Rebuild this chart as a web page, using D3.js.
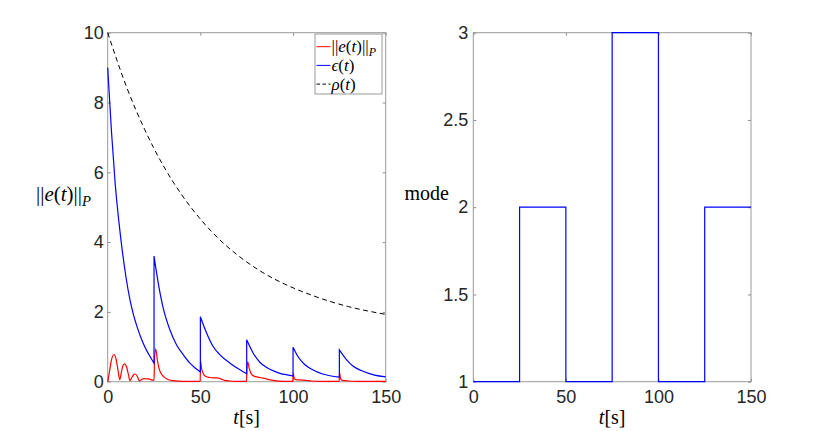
<!DOCTYPE html>
<html>
<head>
<meta charset="utf-8">
<script src="https://cdn.jsdelivr.net/npm/d3@7"></script>
<style>
    body { margin: 0; background: #fff; }
    .tick text { font-family: "Liberation Sans", Arial, sans-serif; font-size: 18px; fill: #262626; }
    .tick line { stroke: #8c8c8c; }
    .math { font-family: "Liberation Serif", "Times New Roman", serif; fill: #000; }
</style>
</head>
<body>
<div class="chart"></div>
<script>
// ||e(t)||_P  (red)
var errTime = [0, 1, 2, 3.4, 4.5, 5.5, 6.5, 7.5, 8.3, 9.2, 10.2, 11.2, 12, 13, 14, 14.8, 16, 17.1, 18.5, 19.8, 21, 22.3, 23.5, 25,
    25.2, 25.9, 26.8, 27.7, 29, 30.5, 32.2, 35, 40, 45, 49.9,
    50.1, 50.6, 51.2, 52, 53, 55, 57, 59, 61, 63, 66, 70, 74.9,
    75.1, 75.6, 76.2, 77, 77.8, 79, 81, 84, 87, 90, 95, 99.9,
    100.1, 100.6, 101.5, 104, 107, 110, 115, 124.9,
    125.1, 125.6, 126.5, 130, 135, 150];
var errValue = [0, 0.3, 0.62, 0.78, 0.65, 0.35, 0.06, 0.3, 0.47, 0.51, 0.42, 0.2, 0.03, 0.12, 0.2, 0.22, 0.15, 0.02, 0.07, 0.09, 0.08, 0.08, 0.05, 0.04,
    0.5, 0.94, 0.62, 0.38, 0.22, 0.13, 0.07, 0.03, 0.01, 0.01, 0.01,
    0.6, 0.4, 0.28, 0.19, 0.15, 0.12, 0.11, 0.11, 0.08, 0.04, 0.02, 0.01, 0.01,
    0.35, 0.57, 0.42, 0.28, 0.2, 0.16, 0.13, 0.1, 0.06, 0.03, 0.01, 0.01,
    0.24, 0.1, 0.06, 0.05, 0.04, 0.02, 0.01, 0.01,
    0.26, 0.1, 0.04, 0.02, 0.01, 0.01];

// epsilon(t) (blue), repeated time = jump
var epsTime = [0, 2, 4, 6, 8, 10, 12, 14, 16, 18, 20, 22, 25,
    25, 27.3, 30, 33.6, 37.2, 40.8, 44.4, 47, 50,
    50, 53.4, 57, 60.6, 66, 71.4, 75,
    75, 78.6, 82.2, 85.8, 89.4, 93, 98.4, 100,
    100, 102.9, 106.1, 110.6, 116, 120, 125,
    125, 128.7, 132.3, 136.8, 144, 150];
var epsValue = [9, 7.2, 5.7, 4.6, 3.7, 2.95, 2.35, 1.9, 1.55, 1.25, 1.0, 0.8, 0.53,
    3.6, 2.82, 2.1, 1.48, 1.05, 0.77, 0.53, 0.4, 0.28,
    1.86, 1.39, 1.0, 0.77, 0.53, 0.34, 0.23,
    1.2, 0.81, 0.55, 0.41, 0.31, 0.24, 0.18, 0.16,
    0.99, 0.7, 0.5, 0.34, 0.22, 0.17, 0.13,
    0.91, 0.64, 0.45, 0.32, 0.19, 0.14];

// rho(t) (black dashed)
var rhoTime = [0, 10, 20, 30, 40, 50, 60, 70, 80, 90, 100, 110, 120, 130, 140, 150];
var rhoValue = [10, 8.47, 7.22, 6.19, 5.35, 4.66, 4.09, 3.63, 3.25, 2.94, 2.69, 2.48, 2.3, 2.15, 2.03, 1.93];

// mode (right panel)
var modeTime = [0, 25, 50, 75, 100, 125, 150];
var modeValue = [1, 2, 1, 3, 1, 2, 2];

var xTicks = [0, 50, 100, 150];
var leftTicks = [0, 2, 4, 6, 8, 10];
var rightTicks = [1, 1.5, 2, 2.5, 3];

var svg = d3.select(".chart").append("svg")
    .attr("width", 830)
    .attr("height", 431);

svg.append("rect").attr("width", 830).attr("height", 431).attr("fill", "#fff");

var top0 = 32.7, bottom0 = 381.7;
var xL = d3.scaleLinear().domain([0, 150]).range([107.7, 385.7]);
var yL = d3.scaleLinear().domain([0, 10]).range([bottom0, top0]);
var xR = d3.scaleLinear().domain([0, 150]).range([473.3, 751]);
var yR = d3.scaleLinear().domain([1, 3]).range([bottom0, top0]);

function frame(x, y, yTicks, fmt, pad) {
    var g = svg.append("g");
    g.append("g").attr("transform", "translate(0," + bottom0 + ")")
        .call(d3.axisBottom(x).tickValues(xTicks).tickSizeInner(-3).tickSizeOuter(0).tickPadding(9));
    g.append("g").attr("transform", "translate(0," + top0 + ")")
        .call(d3.axisTop(x).tickValues(xTicks).tickSizeInner(-3).tickSizeOuter(0).tickFormat(""));
    g.append("g").attr("transform", "translate(" + x.range()[0] + ",0)")
        .call(d3.axisLeft(y).tickValues(yTicks).tickSizeInner(-3).tickSizeOuter(0).tickPadding(pad).tickFormat(fmt));
    g.append("g").attr("transform", "translate(" + x.range()[1] + ",0)")
        .call(d3.axisRight(y).tickValues(yTicks).tickSizeInner(-3).tickSizeOuter(0).tickFormat(""));
    g.selectAll(".domain").remove();
    g.append("rect")
        .attr("x", x.range()[0]).attr("y", top0)
        .attr("width", x.range()[1] - x.range()[0])
        .attr("height", bottom0 - top0)
        .attr("fill", "none").attr("stroke", "#9a9a9a").attr("stroke-width", 1);
    return g;
}

frame(xL, yL, leftTicks, d3.format("d"), 4);
frame(xR, yR, rightTicks, function(d) { return d3.format("")(d); }, 5);

// lines, left panel
function pts(ts, vs) { return ts.map(function(t, i) { return [t, vs[i]]; }); }

var lineL = d3.line()
    .x(function(d) { return xL(d[0]); })
    .y(function(d) { return yL(d[1]); })
    .curve(d3.curveMonotoneX);

// break at repeated times, then join the pieces with vertical steps
function jumpPath(ts, vs) {
    var segs = [], cur = [];
    ts.forEach(function(t, i) {
        if (i > 0 && t <= ts[i - 1]) { segs.push(cur); cur = []; }
        cur.push([t, vs[i]]);
    });
    segs.push(cur);
    return segs.map(function(s, i) {
        var p = lineL(s);
        return i === 0 ? p : "L" + p.slice(1);
    }).join("");
}

svg.append("path")
    .attr("d", lineL(pts(errTime, errValue)))
    .attr("fill", "none").attr("stroke", "#ff0000").attr("stroke-width", 1.2);

svg.append("path")
    .attr("d", jumpPath(epsTime, epsValue))
    .attr("fill", "none").attr("stroke", "#0000ff").attr("stroke-width", 1.2);

svg.append("path")
    .attr("d", lineL(pts(rhoTime, rhoValue)))
    .attr("fill", "none").attr("stroke", "#000").attr("stroke-width", 1)
    .attr("stroke-dasharray", "5,3.5");

// right panel step line
svg.append("path")
    .attr("d", d3.line()
        .x(function(d) { return xR(d[0]); })
        .y(function(d) { return yR(d[1]); })
        .curve(d3.curveStepAfter)(pts(modeTime, modeValue)))
    .attr("fill", "none").attr("stroke", "#0000ff").attr("stroke-width", 1.2);

// labels
function normLabel(sel, size) {
    sel.append("tspan").text("||");
    sel.append("tspan").attr("font-style", "italic").text("e");
    sel.append("tspan").text("(");
    sel.append("tspan").attr("font-style", "italic").text("t");
    sel.append("tspan").text(")||");
    sel.append("tspan").attr("font-style", "italic").attr("font-size", size * 0.7).attr("dy", size * 0.25).text("P");
}

function tLabel(x) {
    var t = svg.append("text").attr("class", "math").attr("x", x).attr("y", 424)
        .attr("text-anchor", "middle").attr("font-size", 20);
    t.append("tspan").attr("font-style", "italic").text("t");
    t.append("tspan").text("[s]");
}
tLabel(xL(75));
tLabel(xR(75));

var yl = svg.append("text").attr("class", "math").attr("x", 91).attr("y", 201)
    .attr("text-anchor", "end").attr("font-size", 21);
normLabel(yl, 21);

svg.append("text").attr("class", "math").attr("x", 449).attr("y", 200)
    .attr("text-anchor", "end").attr("font-size", 20).text("mode");

// legend
var legendItems = [
    { key: "err", color: "#ff0000", dash: null },
    { key: "eps", color: "#0000ff", dash: null },
    { key: "rho", color: "#000", dash: "3.5,2.5" }
];
var legendX = 315, legendY = 34, legendW = 67, legendH = 60, rowH = 18.7;

var legend = svg.append("g");
legend.append("rect")
    .attr("x", legendX).attr("y", legendY).attr("width", legendW).attr("height", legendH)
    .attr("fill", "#fff").attr("stroke", "#9a9a9a").attr("stroke-width", 1);

var rows = legend.selectAll(".legend-row")
    .data(legendItems)
    .enter().append("g")
    .attr("class", "legend-row")
    .attr("transform", function(d, i) { return "translate(" + legendX + "," + (46.7 + i * rowH) + ")"; });

rows.append("line")
    .attr("x1", 1.5).attr("x2", 15.5)
    .attr("stroke", function(d) { return d.color; })
    .attr("stroke-width", 1)
    .attr("stroke-dasharray", function(d) { return d.dash; });

rows.each(function(d) {
    var t = d3.select(this).append("text").attr("class", "math")
        .attr("x", 16.5).attr("y", 5.5).attr("font-size", 17);
    if (d.key === "err") {
        normLabel(t, 17);
    } else {
        t.append("tspan").attr("font-style", "italic").text(d.key === "eps" ? "\u03f5" : "\u03c1");
        t.append("tspan").text("(");
        t.append("tspan").attr("font-style", "italic").text("t");
        t.append("tspan").text(")");
    }
});
</script>
</body>
</html>
